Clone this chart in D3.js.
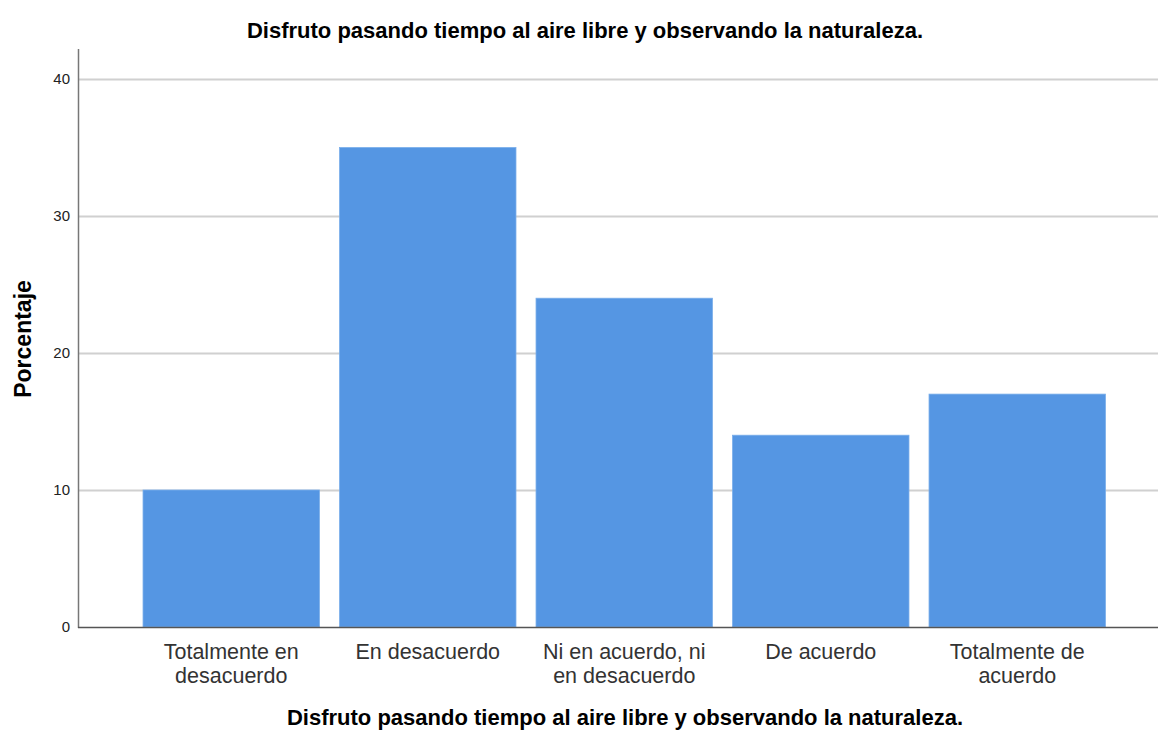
<!DOCTYPE html>
<html><head><meta charset="utf-8">
<script src="https://cdn.jsdelivr.net/npm/d3@7"></script>
<style>body{margin:0;background:#fff}svg{display:block}</style>
</head><body>
<script>
const categories = ["Totalmente en\ndesacuerdo","En desacuerdo","Ni en acuerdo, ni\nen desacuerdo","De acuerdo","Totalmente de\nacuerdo"];
const values = [10, 35, 24, 14, 17];
const yTicks = [0, 10, 20, 30, 40];
const titleText = "Disfruto pasando tiempo al aire libre y observando la naturaleza.";
const xTitle = "Disfruto pasando tiempo al aire libre y observando la naturaleza.";
const yTitle = "Porcentaje";

const W = 1158, H = 738;
const svg = d3.select("body").append("svg").attr("width", W).attr("height", H);
const font = "'Liberation Sans', Arial, sans-serif";

const y = d3.scaleLinear().domain([0, 40]).range([627, 79]);
const x = d3.scaleBand().domain(categories).range([133, 1115.5]).paddingInner(0.102).paddingOuter(0.051);

// gridlines
svg.append("g").selectAll("line").data(yTicks.filter(d => d > 0)).join("line")
  .attr("x1", 79).attr("x2", W).attr("y1", d => Math.round(y(d)) + 0.5).attr("y2", d => Math.round(y(d)) + 0.5)
  .attr("stroke", "#d0d0d0").attr("stroke-width", 2);

// bars
svg.append("g").selectAll("rect").data(values).join("rect")
  .attr("x", (d, i) => x(categories[i])).attr("width", x.bandwidth())
  .attr("y", d => y(d)).attr("height", d => y(0) - y(d))
  .attr("fill", "#5596e3").attr("stroke", "#7aaeea").attr("stroke-width", 0.8);

// axes
const yAxis = d3.axisLeft(y).tickValues(yTicks).tickSize(0).tickPadding(8);
const gy = svg.append("g").attr("transform", "translate(78,0)").call(yAxis);
gy.select(".domain").remove();
gy.selectAll("text").attr("font-family", font).attr("font-size", 15).attr("fill", "#222");
svg.append("line").attr("x1", 78.5).attr("x2", 78.5).attr("y1", 49).attr("y2", 628).attr("stroke", "#777").attr("stroke-width", 1.5);
svg.append("line").attr("x1", 78).attr("x2", W).attr("y1", 627.5).attr("y2", 627.5).attr("stroke", "#555").attr("stroke-width", 1.5);

// x labels
const xl = svg.append("g").selectAll("text").data(categories).join("text")
  .attr("x", d => x(d) + x.bandwidth() / 2).attr("y", 659)
  .attr("text-anchor", "middle").attr("font-family", font).attr("font-size", 21.5).attr("fill", "#333");
xl.each(function(d) {
  const t = d3.select(this);
  d.split("\n").forEach((line, i) => t.append("tspan").attr("x", x(d) + x.bandwidth() / 2).attr("dy", i ? 24 : 0).text(line));
});

// titles
svg.append("text").attr("x", 585).attr("y", 38).attr("text-anchor", "middle")
  .attr("font-family", font).attr("font-weight", "bold").attr("font-size", 22).attr("fill", "#000").text(titleText);
svg.append("text").attr("x", 625).attr("y", 725).attr("text-anchor", "middle")
  .attr("font-family", font).attr("font-weight", "bold").attr("font-size", 22).attr("fill", "#000").text(xTitle);
svg.append("text").attr("transform", "translate(31,339) rotate(-90)").attr("text-anchor", "middle")
  .attr("font-family", font).attr("font-weight", "bold").attr("font-size", 23).attr("fill", "#000").text(yTitle);
</script>
</body></html>
